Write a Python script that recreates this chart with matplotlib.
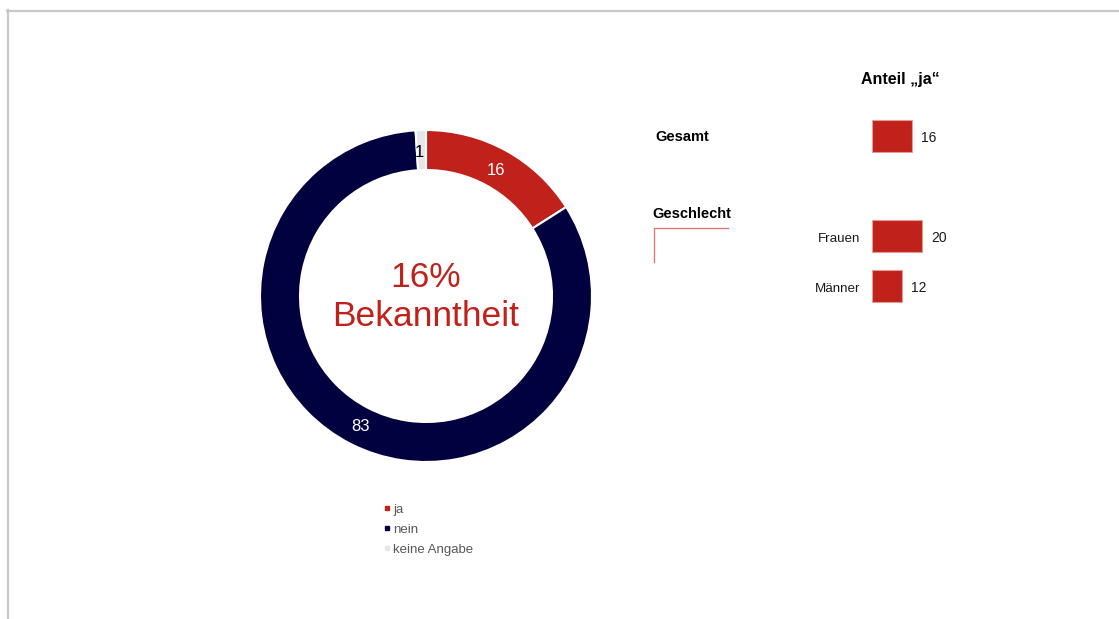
import numpy as np
import matplotlib.pyplot as plt
from matplotlib.lines import Line2D

plt.rcParams["font.family"] = ["Liberation Sans", "DejaVu Sans"]

# Daten
ring_labels = ["ja", "nein", "keine Angabe"]
ring_values = [16, 83, 1]
ring_colors = ["#C0211A", "#01013F", "#E6E6E6"]
ring_text_colors = ["white", "white", "black"]

bar_labels = ["Gesamt", "Frauen", "Männer"]
bar_values = [16, 20, 12]
bar_slots = [0, 2, 3]

W, H = 1119, 619
fig = plt.figure(figsize=(W / 100, H / 100), dpi=100)


def px_axes(x0, y0, w, h):
    # Achse in Pixelkoordinaten (oben links als Ursprung)
    return fig.add_axes([x0 / W, 1 - (y0 + h) / H, w / W, h / H])


# Rahmen
frame = px_axes(0, 0, W, H)
frame.set_xlim(0, W)
frame.set_ylim(H, 0)
frame.axis("off")
frame.plot([7, W], [10.5, 10.5], color="#C8C8C8", lw=1.6)
frame.plot([7.5, 7.5], [10, H], color="#C8C8C8", lw=1.6)

# Ring
cx, cy, R = 426, 296, 166
ax = px_axes(cx - 175, cy - 175, 350, 350)
wedges, _ = ax.pie(
    ring_values, colors=ring_colors, startangle=90, counterclock=False,
    radius=R, wedgeprops=dict(width=40, edgecolor="white", linewidth=1.5))
for w, v, c in zip(wedges, ring_values, ring_text_colors):
    ang = np.deg2rad((w.theta1 + w.theta2) / 2)
    ax.text(145 * np.cos(ang) - (2 if v == 1 else 0),
            145 * np.sin(ang) - 1.5, str(v),
            ha="center", va="center", fontsize=12, color=c)
ax.set_xlim(-175, 175)
ax.set_ylim(-175, 175)
ax.set_aspect("equal")

ax.text(0, -1, "16%\nBekanntheit", ha="center", va="center", fontsize=25.5,
        color="#C0211A", linespacing=1.2)

handles = [Line2D([], [], marker="s", ls="", color=c, markersize=3.5)
           for c in ring_colors]
leg = fig.legend(handles, ring_labels, loc="upper left",
                 bbox_to_anchor=(377 / W, 1 - 497 / H), frameon=False,
                 fontsize=9.5, handlelength=0.5, handletextpad=0.25,
                 labelspacing=0.58, borderpad=0)
for t in leg.get_texts():
    t.set_color("#595959")

# Balken "Anteil ja"
px_per_unit = 2.5
bx = px_axes(872, 111, 40 * px_per_unit, 200)
bx.barh(bar_slots, bar_values, height=0.63, color="#C0211A",
        edgecolor="#E59A96", linewidth=0.8)
bx.set_xlim(0, 40)
bx.set_ylim(3.5, -0.5)
bx.axis("off")
for s, v in zip(bar_slots, bar_values):
    bx.annotate(str(v), (v, s), xytext=(9, -2), textcoords="offset pixels",
                ha="left", va="center", fontsize=10, color="#1A1A1A")
for s, lab in zip(bar_slots[1:], bar_labels[1:]):
    bx.annotate(lab, (0, s), xytext=(-12, -2.5), textcoords="offset pixels",
                ha="right", va="center", fontsize=9.6, color="#1A1A1A")

frame.text(900, 79.5, "Anteil \u201eja\u201c", ha="center", va="center",
           fontsize=11.5, fontweight="bold")
frame.text(655, 137, bar_labels[0], ha="left", va="center",
           fontsize=10.5, fontweight="bold")
frame.text(652, 214, "Geschlecht", ha="left", va="center",
           fontsize=10.5, fontweight="bold")
frame.plot([653.5, 653.5, 728], [262, 228, 228], color="#E07A7A", lw=1)

fig.savefig("out.png", dpi=100)
